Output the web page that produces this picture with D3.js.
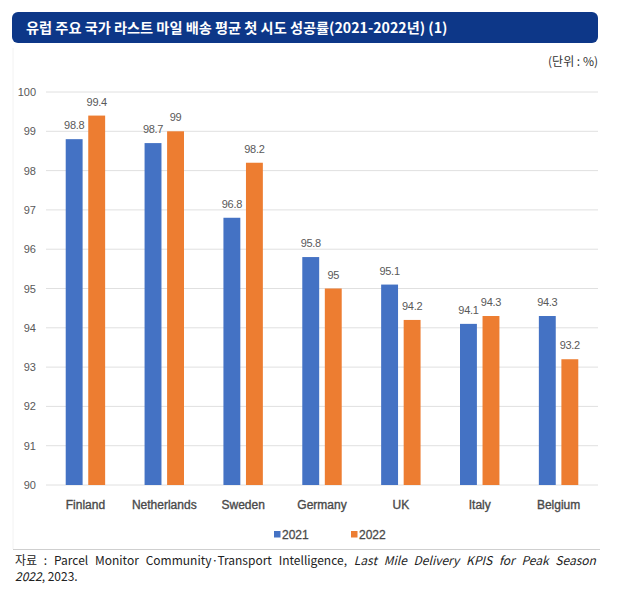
<!DOCTYPE html>
<html>
<head>
<meta charset="utf-8">
<script src="https://cdn.jsdelivr.net/npm/d3@7"></script>
<style>
  body { margin: 0; background: #fff; }
  svg { display: block; }
</style>
</head>
<body>
<div id="chart"></div>
<script>
// data
let countries = ["Finland", "Netherlands", "Sweden", "Germany", "UK", "Italy", "Belgium"];
let years = ["2021", "2022"];
let values2021 = [98.8, 98.7, 96.8, 95.8, 95.1, 94.1, 94.3];
let values2022 = [99.4, 99, 98.2, 95, 94.2, 94.3, 93.2];
let yTicks = [90, 91, 92, 93, 94, 95, 96, 97, 98, 99, 100];

let colors = {"2021": "#4472c4", "2022": "#ed7d31"};
let titleText = "유럽 주요 국가 라스트 마일 배송 평균 첫 시도 성공률(2021-2022년) (1)";

let width = 617, height = 605;
let svg = d3.select("#chart").append("svg")
    .attr("width", width).attr("height", height);

// title bar
svg.append("rect")
    .attr("x", 12).attr("y", 12).attr("width", 586).attr("height", 31)
    .attr("rx", 6).attr("fill", "#0d3788");
svg.append("text")
    .attr("x", 26).attr("y", 33)
    .attr("fill", "#fff")
    .style("font-family", "'Noto Sans CJK KR', sans-serif")
    .style("font-size", "14.2px").style("font-weight", "bold")
    .text(titleText);

// unit
svg.append("text")
    .attr("x", 598).attr("y", 66)
    .attr("text-anchor", "end")
    .attr("fill", "#333")
    .style("font-family", "'Noto Sans CJK KR', sans-serif")
    .style("font-size", "12px")
    .text("(단위 : %)");

let y = d3.scaleLinear().domain([90, 100]).range([485, 92]);
let x0 = d3.scaleBand().domain(countries).range([46, 598]).paddingInner(0.5).paddingOuter(0.25);
let x1 = d3.scaleBand().domain(years).range([0, x0.bandwidth()]).paddingInner(0.25);

// gridlines
svg.append("g").selectAll("line").data(yTicks).join("line")
    .attr("x1", 46).attr("x2", 598)
    .attr("y1", d => y(d)).attr("y2", d => y(d))
    .attr("stroke", "#e0e0e0").attr("stroke-width", 1);

// y axis labels
let yAxis = d3.axisLeft(y).tickValues(yTicks).tickSize(0).tickPadding(0);
let yg = svg.append("g").attr("transform", "translate(36,0)").call(yAxis);
yg.select(".domain").remove();
yg.selectAll("text")
    .attr("fill", "#595959")
    .style("font-family", "'Liberation Sans', sans-serif")
    .style("font-size", "11px");

let rows = countries.map((c, i) => ({country: c, vals: [
    {year: "2021", v: values2021[i]},
    {year: "2022", v: values2022[i]}
]}));

let groups = svg.append("g").selectAll("g").data(rows).join("g")
    .attr("transform", d => "translate(" + x0(d.country) + ",0)");

groups.selectAll("rect").data(d => d.vals).join("rect")
    .attr("x", d => x1(d.year))
    .attr("width", x1.bandwidth())
    .attr("y", d => y(d.v))
    .attr("height", d => y(90) - y(d.v))
    .attr("fill", d => colors[d.year]);

groups.selectAll("text").data(d => d.vals).join("text")
    .attr("x", d => x1(d.year) + x1.bandwidth() / 2)
    .attr("y", d => y(d.v) - 10)
    .attr("text-anchor", "middle")
    .attr("fill", "#595959")
    .style("font-family", "'Liberation Sans', sans-serif")
    .style("font-size", "11px")
    .style("letter-spacing", "-0.3px")
    .text(d => d.v);

// category axis
let xAxis = d3.axisBottom(x0).tickSize(0).tickPadding(0);
let xg = svg.append("g").attr("transform", "translate(0,509)").call(xAxis);
xg.select(".domain").remove();
xg.selectAll("text")
    .attr("dy", 0)
    .attr("fill", "#4a4a4a")
    .attr("stroke", "#4a4a4a").attr("stroke-width", 0.35)
    .style("font-family", "'Liberation Sans', sans-serif")
    .style("font-size", "12px");

// legend
let legendX = [274, 351];
let legend = svg.append("g").selectAll("g").data(years).join("g")
    .attr("transform", (d, i) => "translate(" + legendX[i] + ",531)");
legend.append("rect")
    .attr("width", 6.5).attr("height", 6.5)
    .attr("fill", d => colors[d]);
legend.append("text")
    .attr("x", 8).attr("y", 7.5)
    .attr("fill", "#4a4a4a")
    .attr("stroke", "#4a4a4a").attr("stroke-width", 0.3)
    .style("font-family", "'Liberation Sans', sans-serif")
    .style("font-size", "12px")
    .text(d => d);

// faint chart frame and separator
svg.append("line")
    .attr("x1", 13).attr("x2", 13).attr("y1", 48).attr("y2", 549)
    .attr("stroke", "#f2f2f2");
svg.append("line")
    .attr("x1", 13).attr("x2", 600).attr("y1", 549.5).attr("y2", 549.5)
    .attr("stroke", "#cfcfcf").attr("stroke-width", 1.2);

// source note, first line justified
let src = svg.append("text")
    .attr("x", 15).attr("y", 565)
    .attr("fill", "#222")
    .style("font-family", "'Noto Sans CJK KR', sans-serif")
    .style("font-size", "12px");
src.append("tspan").text("자료 : Parcel Monitor Community·Transport Intelligence, ");
src.append("tspan").style("font-style", "italic").text("Last Mile Delivery KPIS for Peak Season");
let spaces = 13;
let natural = src.node().getComputedTextLength();
src.style("word-spacing", ((585 - natural) / spaces) + "px");

let src2 = svg.append("text")
    .attr("x", 15).attr("y", 581)
    .attr("fill", "#222")
    .style("font-family", "'Noto Sans CJK KR', sans-serif")
    .style("font-size", "12px");
src2.append("tspan").style("font-style", "italic").text("2022");
src2.append("tspan").text(", 2023.");
</script>
</body>
</html>
